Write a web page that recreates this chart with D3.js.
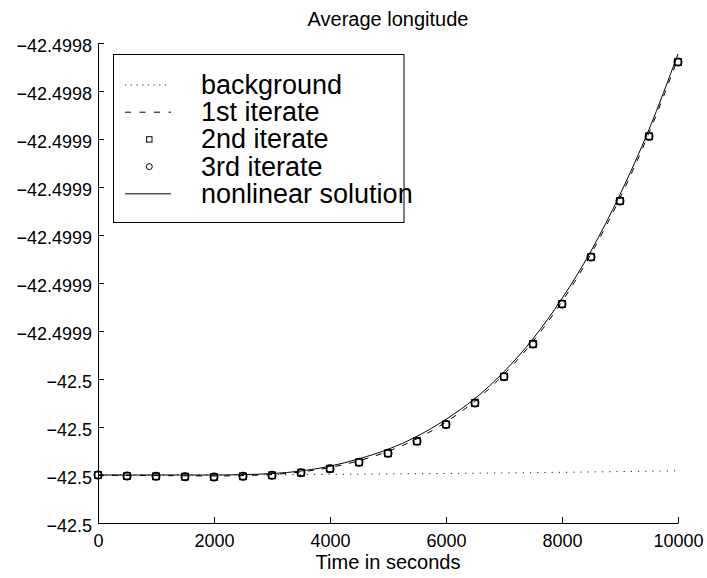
<!DOCTYPE html>
<html>
<head>
<meta charset="utf-8">
<script src="https://cdn.jsdelivr.net/npm/d3@7"></script>
<style>
  body { margin: 0; background: #fff; }
  text { font-family: "Liberation Sans", Arial, Helvetica, sans-serif; fill: #000; }
</style>
</head>
<body>
<svg id="chart" width="707" height="578"></svg>
<script>
// Sample times (s) for the iterates and the nonlinear solution
const timeSeconds = [0, 500, 1000, 1500, 2000, 2500, 3000, 3500, 4000, 4500, 5000,
                     5500, 6000, 6500, 7000, 7500, 8000, 8500, 9000, 9500, 10000];

// Background state, sampled every 1000 s
const backgroundTimes = [0, 1000, 2000, 3000, 4000, 5000, 6000, 7000, 8000, 9000, 10000];
const backgroundLon = [-42.5, -42.49999998, -42.49999993, -42.49999984, -42.49999972,
                       -42.49999956, -42.49999937, -42.49999914, -42.49999888,
                       -42.49999858, -42.49999825];

// Average longitude (degrees) for each iterate
const firstIterate = [-42.5, -42.50000021, -42.50000025, -42.50000033, -42.50000042,
                      -42.50000021, -42.49999979, -42.49999871, -42.49999688, -42.49999404,
                      -42.49999013, -42.49998492, -42.49997792, -42.49996917, -42.49995804,
                      -42.49994438, -42.49992771, -42.49990792, -42.49988458, -42.4998575,
                      -42.49982625];
const secondIterate = [-42.5, -42.50000042, -42.50000054, -42.50000071, -42.50000083,
                       -42.50000054, -42.50000013, -42.49999904, -42.49999738, -42.49999471,
                       -42.49999096, -42.49998596, -42.49997896, -42.49997, -42.49995904,
                       -42.49994542, -42.49992875, -42.49990917, -42.49988583, -42.49985888,
                       -42.49982792];
const thirdIterate = secondIterate.slice();
const nonlinearSolution = [-42.5, -42.5, -42.5, -42.5, -42.50000002,
                           -42.49999983, -42.49999942, -42.49999833, -42.49999633, -42.49999325,
                           -42.49998929, -42.49998388, -42.49997679, -42.49996813, -42.49995696,
                           -42.49994325, -42.49992646, -42.49990667, -42.49988313, -42.49985604,
                           -42.49982458];

// Axis ticks
const xTickValues = [0, 2000, 4000, 6000, 8000, 10000];
const xTickLabels = ["0", "2000", "4000", "6000", "8000", "10000"];
const yTickValues = [-42.50002, -42.5, -42.49998, -42.49996, -42.49994, -42.49992,
                     -42.4999, -42.49988, -42.49986, -42.49984, -42.49982];
const yTickLabels = ["\u221242.5", "\u221242.5", "\u221242.5", "\u221242.5",
                     "\u221242.4999", "\u221242.4999", "\u221242.4999", "\u221242.4999",
                     "\u221242.4999", "\u221242.4998", "\u221242.4998"];

const legendLabels = ["background", "1st iterate", "2nd iterate", "3rd iterate", "nonlinear solution"];

const svg = d3.select("#chart");
const plot = { left: 98, right: 678, top: 43, bottom: 523 };

const x = d3.scaleLinear().domain([0, 10000]).range([plot.left, plot.right]);
const y = d3.scaleLinear().domain([-42.50002, -42.49982]).range([plot.bottom, plot.top]);

// Axes (left and bottom only, ticks pointing inward)
const xAxis = d3.axisBottom(x)
  .tickValues(xTickValues)
  .tickFormat((d, i) => xTickLabels[i])
  .tickSizeInner(-6).tickSizeOuter(0).tickPadding(11);
const yAxis = d3.axisLeft(y)
  .tickValues(yTickValues)
  .tickFormat((d, i) => yTickLabels[i])
  .tickSizeInner(-6).tickSizeOuter(0).tickPadding(6);

const gx = svg.append("g").attr("transform", `translate(0,${plot.bottom})`).call(xAxis);
const gy = svg.append("g").attr("transform", `translate(${plot.left},0)`).call(yAxis);
[gx, gy].forEach(g => {
  g.attr("font-family", null).attr("font-size", null);
  g.selectAll("path, line").attr("stroke", "#000").attr("stroke-width", 1);
  g.selectAll("text").style("font-size", "18px");
});
gy.selectAll("text").attr("dy", "0.47em");

// Curves
const line = (xs, ys) => d3.line()
  .x((d, i) => x(xs[i]))
  .y(d => y(d))
  .curve(d3.curveMonotoneX)(ys);

svg.append("path").attr("d", line(backgroundTimes, backgroundLon))
  .attr("fill", "none").attr("stroke", "#222").attr("stroke-width", 1)
  .attr("stroke-dasharray", "1.2,6");
svg.append("path").attr("d", line(timeSeconds, firstIterate))
  .attr("fill", "none").attr("stroke", "#000").attr("stroke-width", 1)
  .attr("stroke-dasharray", "6,8");
svg.append("path").attr("d", line(timeSeconds, nonlinearSolution))
  .attr("fill", "none").attr("stroke", "#000").attr("stroke-width", 1);

// Markers: squares for the 2nd iterate, circles for the 3rd
const sq = 6.4;
svg.append("g").selectAll("rect").data(secondIterate).join("rect")
  .attr("x", (d, i) => x(timeSeconds[i]) - sq / 2)
  .attr("y", d => y(d) - sq / 2)
  .attr("width", sq).attr("height", sq)
  .attr("fill", "none").attr("stroke", "#000").attr("stroke-width", 1.4);
svg.append("g").selectAll("circle").data(thirdIterate).join("circle")
  .attr("cx", (d, i) => x(timeSeconds[i]))
  .attr("cy", d => y(d))
  .attr("r", 3.8)
  .attr("fill", "none").attr("stroke", "#000").attr("stroke-width", 1.4);

// Title and axis label
svg.append("text").attr("x", (plot.left + plot.right) / 2).attr("y", 26)
  .attr("text-anchor", "middle").style("font-size", "20px").text("Average longitude");
svg.append("text").attr("x", (plot.left + plot.right) / 2).attr("y", 569)
  .attr("text-anchor", "middle").style("font-size", "20px").text("Time in seconds");

// Legend
const lg = svg.append("g");
lg.append("rect").attr("x", 113.5).attr("y", 54.5).attr("width", 290.5).attr("height", 168)
  .attr("fill", "#fff").attr("stroke", "#000").attr("stroke-width", 1);
const rowY = i => 85 + i * 27.2;
lg.append("line").attr("x1", 125).attr("x2", 167).attr("y1", rowY(0)).attr("y2", rowY(0))
  .attr("stroke", "#222").attr("stroke-dasharray", "1.2,4.5");
lg.append("line").attr("x1", 125).attr("x2", 171).attr("y1", rowY(1)).attr("y2", rowY(1))
  .attr("stroke", "#000").attr("stroke-dasharray", "6,8.5");
lg.append("rect").attr("x", 149.3 - 2.7).attr("y", rowY(2) - 2.7).attr("width", 5.4).attr("height", 5.4)
  .attr("fill", "none").attr("stroke", "#000");
lg.append("circle").attr("cx", 149.3).attr("cy", rowY(3)).attr("r", 3)
  .attr("fill", "none").attr("stroke", "#000");
lg.append("line").attr("x1", 125).attr("x2", 171).attr("y1", rowY(4)).attr("y2", rowY(4))
  .attr("stroke", "#000");
lg.selectAll("text.entry").data(legendLabels).join("text").attr("class", "entry")
  .attr("x", 201).attr("y", (d, i) => rowY(i) + 9)
  .style("font-size", "27px").text(d => d);
</script>
</body>
</html>
